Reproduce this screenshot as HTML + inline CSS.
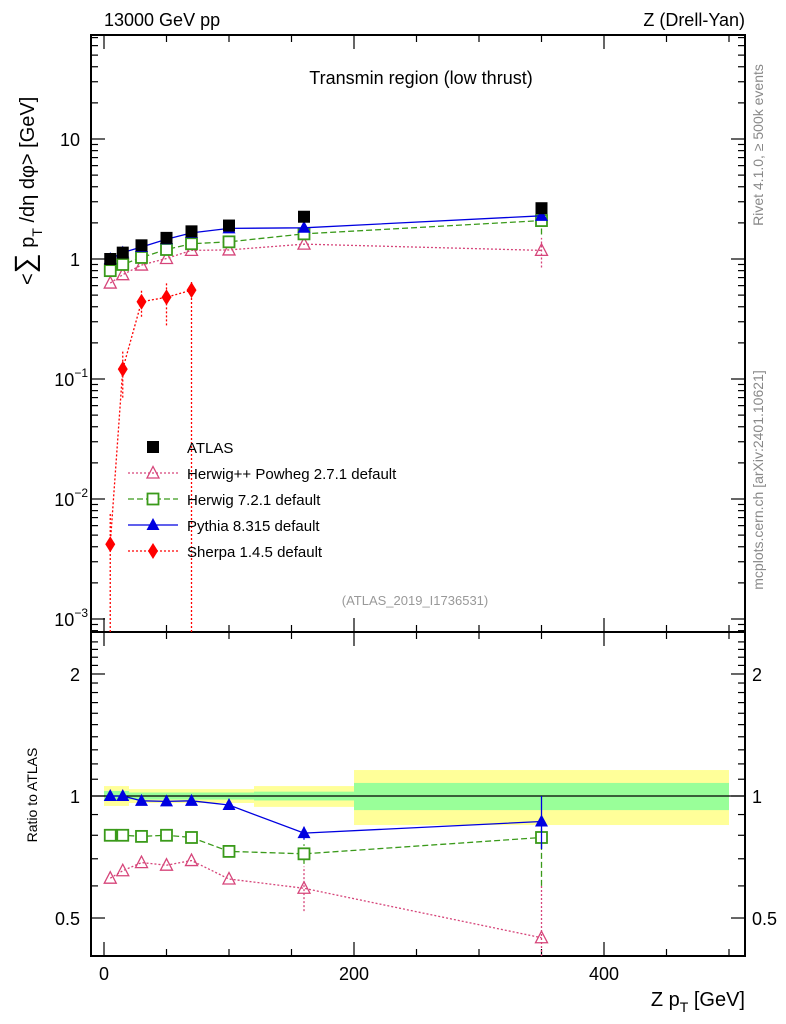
<!DOCTYPE html>
<html><head><meta charset="utf-8"><style>
body{margin:0;background:#fff}
svg{display:block;font-family:"Liberation Sans",sans-serif}
</style></head><body>
<svg id="c" width="786" height="1024" viewBox="0 0 786 1024"></svg>
<script>
const xs=[5,15,30,50,70,100,160,350];
const atlas=[1.0,1.13,1.3,1.5,1.7,1.9,2.25,2.65];
const pythia=[1.0,1.13,1.26,1.46,1.65,1.8,1.82,2.29];
const herwig7=[0.80,0.90,1.03,1.2,1.34,1.39,1.62,2.09];
const herwigpp=[0.63,0.74,0.89,1.01,1.18,1.19,1.33,1.18];
const sherpaX=[5,15,30,50,70];
const sherpa=[0.0042,0.121,0.44,0.48,0.55];
const sherpaLo=[0.0005,0.07,0.33,0.28,0.0001];
const sherpaHi=[0.0075,0.17,0.55,0.65,0.65];
const rPythia=[1.0,1.0,0.973,0.97,0.973,0.95,0.81,0.865];
const rHerwig7=[0.80,0.80,0.795,0.80,0.79,0.73,0.72,0.79];
const rHerwigpp=[0.627,0.654,0.685,0.675,0.693,0.624,0.592,0.447];
const bandEdges=[0,20,120,200,500];
const yelLo=[0.945,0.961,0.94,0.848], yelHi=[1.058,1.04,1.058,1.159];
const grnLo=[0.972,0.98,0.975,0.923], grnHi=[1.029,1.02,1.025,1.077];
const xTicks=[0,200,400];
const NS='http://www.w3.org/2000/svg';
const svg=document.getElementById('c');
const L=91,R=745,T=35,M=632,B=956;
const X=v=>104+1.25*v;
const Y=v=>Math.min(M,Math.max(T,259-120*Math.log10(v)));
const RY=r=>Math.min(B,Math.max(M,796-405.3*Math.log10(r)));
function el(t,a,txt){const e=document.createElementNS(NS,t);for(const k in a)e.setAttribute(k,a[k]);if(txt!==undefined)e.textContent=txt;svg.appendChild(e);return e;}
for(let i=0;i<bandEdges.length-1;i++){
 const e=el('rect',{x:X(bandEdges[i]),y:RY(yelHi[i]),width:X(bandEdges[i+1])-X(bandEdges[i]),height:RY(yelLo[i])-RY(yelHi[i]),fill:'#ffff99'});
 
 
 const g=el('rect',{x:X(bandEdges[i]),y:RY(grnHi[i]),width:X(bandEdges[i+1])-X(bandEdges[i]),height:RY(grnLo[i])-RY(grnHi[i]),fill:'#99ff99'});
 
 
}
el('line',{x1:L,x2:R,y1:RY(1),y2:RY(1),stroke:'#000','stroke-width':1.2});
const f1=el('rect',{x:L,y:T,width:R-L,height:M-T,fill:'none',stroke:'#000','stroke-width':2});

const f2=el('rect',{x:L,y:M,width:R-L,height:B-M,fill:'none',stroke:'#000','stroke-width':2});

function tk(x1,y1,x2,y2){el('line',{x1,y1,x2,y2,stroke:'#000','stroke-width':1.2});}
for(let v=0;v<=500;v+=50){const big=v%200===0;const len=big?14:7;
 tk(X(v),M,X(v),M-len);tk(X(v),T,X(v),T+len);tk(X(v),B,X(v),B-len);tk(X(v),M,X(v),M+len);}
xTicks.forEach(v=>{const t=el('text',{x:X(v),y:980,'font-size':18,'text-anchor':'middle'},String(v));});
for(let d=-4;d<=2;d++){for(let m=1;m<10;m++){const v=m*Math.pow(10,d);const y=259-120*Math.log10(v);if(y<T||y>M)continue;const len=m===1?14:7;tk(L,y,L+len,y);tk(R,y,R-len,y);}}
const ylab=[[139,'10',''],[259,'1',''],[379,'10','−1'],[499,'10','−2'],[619,'10','−3']];
ylab.forEach(a=>{const t=el('text',{x:a[2]?88:80,y:a[0]+7,'font-size':18,'text-anchor':'end'});
 t.textContent=a[1];if(a[2]){const s=document.createElementNS(NS,'tspan');s.setAttribute('dy',-9);s.setAttribute('font-size',12);s.textContent=a[2];t.appendChild(s);}});
for(let r=0.5;r<=2.5;r+=0.1){const rr=Math.round(r*10)/10;const y=RY(rr);if(y<=M||y>=B)continue;const big=(rr===1||rr===2||rr===0.5);const len=big?14:7;tk(L,y,L+len,y);tk(R,y,R-len,y);}
[[2,'2'],[1,'1'],[0.5,'0.5']].forEach(a=>{const y=RY(a[0])+7;
 const t=el('text',{x:80,y,'font-size':18,'text-anchor':'end'},a[1]);
 const t2=el('text',{x:752,y,'font-size':18},a[1]);});
function marker(type,x,y,c){
 if(type==='sq')return el('rect',{x:x-6,y:y-6,width:12,height:12,fill:'#000'});
 if(type==='osq')return el('rect',{x:x-5.5,y:y-5.5,width:11,height:11,fill:'#fff',stroke:c,'stroke-width':1.8});
 if(type==='tri')return el('polygon',{points:`${x},${y-7} ${x-6.5},${y+5} ${x+6.5},${y+5}`,fill:c});
 if(type==='otri')return el('polygon',{points:`${x},${y-6.5} ${x-6},${y+5} ${x+6},${y+5}`,fill:'none',stroke:c,'stroke-width':1.3});
 if(type==='dia')return el('polygon',{points:`${x},${y-8} ${x-5},${y} ${x},${y+8} ${x+5},${y}`,fill:c});
}
function series(xv,vals,fy,c,dash,type,name,errLo,errHi){
 const pts=xv.map((x,i)=>X(x)+','+fy(vals[i])).join(' ');
 const p=el('polyline',{points:pts,fill:'none',stroke:c,'stroke-width':1.3,'stroke-dasharray':dash});
 
 xv.forEach((x,i)=>{
  if(errLo&&errLo[i]!=null){const e=el('line',{x1:X(x),x2:X(x),y1:fy(errLo[i]),y2:fy(errHi[i]),stroke:c,'stroke-width':1.3,'stroke-dasharray':dash});}
  const m=marker(type,X(x),fy(vals[i]),c);
  });
}
series(xs,herwigpp,Y,'#d6457a','2,2','otri','herwigpp',[null,null,null,null,null,null,null,0.85],[null,null,null,null,null,null,null,1.5]);
series(xs,herwig7,Y,'#3a9a1a','6,3','osq','herwig7',[null,null,null,null,null,null,null,1.6],[null,null,null,null,null,null,null,2.5]);
series(xs,pythia,Y,'#0000e0','','tri','pythia');
series(sherpaX,sherpa,Y,'#ff0000','2,2','dia','sherpa',sherpaLo,sherpaHi);
xs.forEach((x,i)=>{const m=marker('sq',X(x),Y(atlas[i]));});
series(xs,rHerwigpp,RY,'#d6457a','2,2','otri','ratio-herwigpp',[null,null,null,null,null,null,0.52,0.3],[null,null,null,null,null,null,0.67,0.6]);
series(xs,rHerwig7,RY,'#3a9a1a','6,3','osq','ratio-herwig7',[null,null,null,null,null,null,0.68,0.6],[null,null,null,null,null,null,0.76,0.83]);
series(xs,rPythia,RY,'#0000e0','','tri','ratio-pythia',[null,null,null,null,null,0.935,0.78,0.74],[null,null,null,null,null,0.965,0.84,1.0]);
const leg=[['sq','#000','','ATLAS'],['otri','#d6457a','2,2','Herwig++ Powheg 2.7.1 default'],['osq','#3a9a1a','6,3','Herwig 7.2.1 default'],['tri','#0000e0','','Pythia 8.315 default'],['dia','#ff0000','2,2','Sherpa 1.4.5 default']];
leg.forEach((l,i)=>{const y=447+26*i;
 if(i>0){const ln=el('line',{x1:128,x2:178,y1:y,y2:y,stroke:l[1],'stroke-width':1.3,'stroke-dasharray':l[2]});}
 const m=marker(l[0],153,y,l[1]);
 const t=el('text',{x:187,y:y+6,'font-size':15},l[3]);});
</script>
<svg width="786" height="1024" style="position:absolute;left:0;top:0;font-family:'Liberation Sans',sans-serif">
<text x="104" y="26" font-size="18">13000 GeV pp</text>
<text x="745" y="26" font-size="18" text-anchor="end">Z (Drell-Yan)</text>
<text x="421" y="84" font-size="18" text-anchor="middle">Transmin region (low thrust)</text>
<text x="415" y="605" font-size="13" fill="#999" text-anchor="middle">(ATLAS_2019_I1736531)</text>
<text transform="translate(34,285) rotate(-90)" font-size="20">&lt;<tspan font-size="28">∑</tspan> p<tspan font-size="14" dy="8">T</tspan><tspan dy="-8"> /dη dφ&gt; [GeV]</tspan></text>
<text transform="translate(37,795) rotate(-90)" font-size="14" text-anchor="middle">Ratio to ATLAS</text>
<text x="745" y="1006" font-size="20" text-anchor="end">Z p<tspan font-size="14" dy="6">T</tspan><tspan dy="-6"> [GeV]</tspan></text>
<text transform="translate(763,145) rotate(-90)" font-size="14" fill="#888" text-anchor="middle">Rivet 4.1.0, ≥ 500k events</text>
<text transform="translate(763,480) rotate(-90)" font-size="14" fill="#888" text-anchor="middle">mcplots.cern.ch [arXiv:2401.10621]</text>
</svg>
</body></html>
